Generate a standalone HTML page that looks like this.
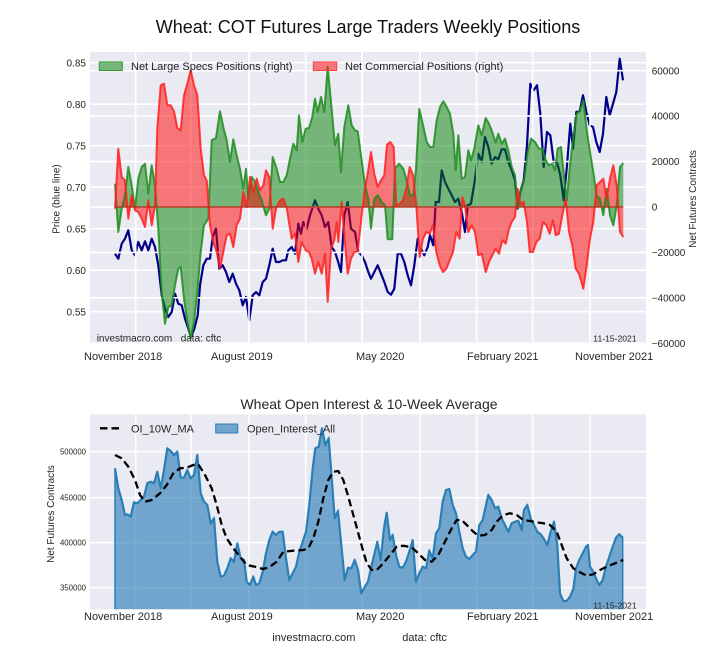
<!DOCTYPE html>
<html><head><meta charset="utf-8"><style>
html,body{margin:0;padding:0;background:#fff;}
svg{display:block;font-family:"Liberation Sans",Arial,sans-serif;}
</style></head><body>
<svg width="720" height="660" viewBox="0 0 720 660" xmlns="http://www.w3.org/2000/svg">
<defs>
<clipPath id="c1"><rect x="90" y="52" width="556" height="292"/></clipPath>
<clipPath id="c2"><rect x="90" y="414.3" width="556" height="195"/></clipPath>
</defs>
<rect width="720" height="660" fill="#fff"/>
<text x="368" y="33" font-size="18" text-anchor="middle" fill="#111">Wheat: COT Futures Large Traders Weekly Positions</text>

<!-- TOP AXES -->
<rect x="90" y="52" width="556" height="292" fill="#EAEAF2"/>
<g stroke="#fff" stroke-width="1.6" fill="none">
<path d="M90 62.7H646M90 104.2H646M90 145.7H646M90 187.2H646M90 228.7H646M90 270.2H646M90 311.7H646"/>
<path d="M135.7 52V344M191 52V344M249 52V344M305.7 52V344M362 52V344M420 52V344M476.7 52V344M532.7 52V344M590 52V344"/>
</g>
<g clip-path="url(#c1)">
<polyline fill="none" stroke="#00008B" stroke-width="2.2" stroke-linejoin="round" points="115,253.7 118.3,258.7 121.7,243.7 125,238.7 128.3,230.3 131.7,250.3 135,255.3 138.3,242 141.7,250.3 145,241.3 148.3,250.3 151.7,238.7 155,247 158.3,265.3 161.7,295.3 165,308.7 168.3,317 171.7,312 175,293.7 178.3,303.7 181.7,305.3 185,318.7 188.3,328.7 191,337 194.3,328.7 197.7,315.3 200,285.3 203.3,265.3 206.7,258.7 210,258.7 212.7,237 216,228.7 219.3,268.7 222.7,265.3 226,272 229.3,282 232.7,273.7 236,283.7 239.3,290.3 242.7,305.3 246,297 249.3,320.3 252.7,295.3 256,292 259.3,295.3 262.7,282 266,278.7 269.3,265.3 272.7,248.7 276,262 279.3,262 282.7,260.3 286,260.3 288.3,250.3 291.7,247 295,253.7 298.3,223.7 301,233.7 303.3,222 306.7,228.7 310,215.3 315,200.3 318.3,208.7 321.7,215.3 325,227 328.3,222 331.7,247 335,252 337.7,260.3 341,272 344.3,215.3 347.7,202 351,228.7 355,232 358.3,252 361.7,255.3 365,262 368.3,272 371,278.7 374.3,272 377.7,265.3 381,273.7 384.3,282 387.7,292 391,294.7 394.3,288.7 397.7,253.7 401,253.7 404.3,262 407.7,275.3 411,285.3 414.3,265.3 417.7,238.7 421,248.7 424.3,255.3 427.7,247 430,235.3 433.3,245.3 435.7,202 439,202 441.7,170.3 445,182 448.3,188.7 451.7,195.3 455,202 458.3,198.7 461.7,212 465,232 467.7,205.3 471,203.7 474.3,183.7 478.3,153.7 481.7,162 485,137 488.3,147 491.7,163.7 495,157 498.3,159.3 501.7,149.3 505,149.3 508.3,162 511.7,170.3 515,180.3 517.7,208.7 520.3,192 523.7,180.3 527,145.3 530.3,83.7 533.7,90.3 537,85.3 540.3,113.7 543.7,167 547,132 550.3,135.3 553.7,162 557,162 560.3,175.3 563.7,200.3 567,165.3 570.3,123.7 573,148.7 576.3,112 579.7,111.3 583,95.3 586.3,112 589.7,125.3 593,127 596.3,142 599.7,152 603,133.7 606.3,97 609.7,115.3 613,103.7 616.3,92 619.7,58.7 623,80.3"/>
</g>
<!-- twin-axis gridlines drawn over the price line -->
<g stroke="#fff" stroke-width="1.6" fill="none">
<path d="M90 70.7H646M90 116.1H646M90 161.6H646M90 207H646M90 252.4H646M90 297.8H646M90 343H646"/>
<path d="M135.7 52V344M191 52V344M249 52V344M305.7 52V344M362 52V344M420 52V344M476.7 52V344M532.7 52V344M590 52V344"/>
</g>
<g clip-path="url(#c1)">
<polygon fill="rgba(0,128,0,0.5)" points="115,183.7 118.3,232 121.7,208.7 125,195 128.3,167 131.7,185 135,208.7 138.3,178.7 141.7,167 145,163.7 148.3,193.7 151.7,165.3 155,185.3 158.3,228.7 161.7,292 165,323.7 168.3,307 171.7,305.3 175,285.3 178.3,268.7 180.7,267 184,298.7 187.3,322 190.7,338.7 194,322 197.3,292 200.7,252 204,225.3 208.3,218.7 211.7,140.3 216,138 220,111.3 223.3,127 226.7,140.3 230,162 233.3,139.3 236.7,155.3 240,168.7 243.3,188.7 246,168.7 248.3,198.7 251.7,177 255,182 258.3,192 261.7,200.3 266,215.3 269.3,208.7 272.7,157 276.7,168.7 280,182 283.3,182 286.7,175.3 290,158.7 293.3,143.7 296.7,150.3 299,115.3 302.3,142 305.7,128.7 309,128 312.3,117 315,98.7 317.7,112 321,97 324.3,112 327.7,67 331,102 335,145.3 338.3,133.7 341,172 344.3,127 348.3,105.3 351.7,125.3 355,130.3 357.7,131.3 361,155.3 365,185.3 368.3,198.7 371,228.7 374.3,198.7 377.7,195.3 381.7,202 385,205.3 387.7,239.3 392.3,239.3 395,168.7 399,163.7 403.3,168.7 406.7,180.3 410,195.3 413.3,195.3 416,168.7 419.3,108.7 422.7,123.7 426.7,142 430,147 433.3,147 436.7,120.3 440,107 443.3,101.3 446.7,107 450,113.7 453.3,133.7 455.7,170.3 458.3,135.3 461.7,178.7 465,177 468.3,150.3 471,160.3 474.3,148.7 478.3,125.3 481.7,135.3 485.7,118 489,123.7 492.3,132 495.7,142.7 498.3,133.7 501.7,143.7 505,138.7 508.3,150.3 511.7,167 515,175.3 517.7,208.7 521,188.7 524.3,178.7 527.7,152 531,138.7 535,142 539,148.7 542.3,148.7 545.7,160.3 549,165.3 552.3,163.7 555,170.3 557.7,148.7 561,147 564.3,178.7 566.7,200.3 570,165.3 573.3,137 576.7,113.7 580,110.3 583.3,100.3 586.7,130.3 590,152 593.3,172 596.7,195.3 600,198.7 603.3,215.3 606.7,188.7 610,215.3 613.3,225.3 616.7,205.3 620,167 623.3,163 623.3,207 115,207"/>
<polygon fill="rgba(255,0,0,0.5)" points="115,208.7 118.3,148.7 121.7,177 125,180.3 128.3,218.7 131.7,195.3 135,210.3 138.3,212 141.7,218.7 145,227 148.3,200.3 151.7,225.3 155,205.3 157.3,128.7 160.7,85.3 164,83.7 167.3,105.3 170.7,105.3 174,111.3 177.3,128 180.7,130.3 184,95.3 187.3,83.7 190.7,70.3 194,85.3 197.3,94.7 200.7,148.7 204,175.3 206.7,180.3 210,225.3 213.3,242 216.7,252 220,268.7 223.3,252 226.7,235.3 230,233.7 233.3,247 236.7,225.3 240,218.7 243.3,192 246.7,207 250,177 253.3,192 256.7,178.7 260,190.3 263.3,185.3 266,170.3 269.3,177 272.7,228.7 276,208.7 280,200.3 283.3,198.7 286.7,208 291.7,238.7 295,233.7 298.3,262 301.7,242 305.7,250.3 309,252 311.7,258.7 315,273.7 318.3,262 321.7,273.7 325,253.7 327.7,302 331,248.7 334.3,240.3 336.7,222 338.3,242 341.7,202 344.3,235.3 347.7,273.7 351,258.7 354.3,252 357.7,251.3 361,222 364.3,192 367.7,173.7 371,152 374.3,173.7 377.7,187 381,180.3 384.3,175.3 387,144.7 390.3,142 393.7,147 396.3,205.3 399.7,203.7 403,200.3 406.3,188.7 409.7,167 413,175.3 416.3,205.3 419.7,257 423,238.7 426.3,232 429.7,233.7 433,225.3 436.3,252 439.7,265.3 443,272 446.3,268.7 449.7,260.3 453,252 456.3,232 459.7,238.7 462.3,197 465,205.3 468.3,232 471.7,225.3 475,232 478.3,255.3 481.7,253.7 485.7,272 489,262 492.3,255.3 495.7,248.7 499,253.7 502.3,240.3 505.7,243.7 509,228.7 511.7,222 515,217 517.7,188.7 520.3,203.7 523.7,202 527,222 529.7,252 533,252 536.3,242 539.7,238.7 543,222 546.3,225.3 549.7,233.7 553,220.3 555.7,235.3 559,233.7 562.3,215.3 565.7,198.7 569,232 572.3,245.3 575.7,268.7 579,273.7 583.3,288.7 586.7,265.3 590,238.7 593.3,222 596.7,185.3 600,182 603.3,178.7 606.7,198.7 610,178.7 613.3,165.3 616.7,185.3 620,232 623.3,237 623.3,207 115,207"/>
<polyline fill="none" stroke="#1f8c1f" stroke-opacity="0.85" stroke-width="2" stroke-linejoin="round" points="115,183.7 118.3,232 121.7,208.7 125,195 128.3,167 131.7,185 135,208.7 138.3,178.7 141.7,167 145,163.7 148.3,193.7 151.7,165.3 155,185.3 158.3,228.7 161.7,292 165,323.7 168.3,307 171.7,305.3 175,285.3 178.3,268.7 180.7,267 184,298.7 187.3,322 190.7,338.7 194,322 197.3,292 200.7,252 204,225.3 208.3,218.7 211.7,140.3 216,138 220,111.3 223.3,127 226.7,140.3 230,162 233.3,139.3 236.7,155.3 240,168.7 243.3,188.7 246,168.7 248.3,198.7 251.7,177 255,182 258.3,192 261.7,200.3 266,215.3 269.3,208.7 272.7,157 276.7,168.7 280,182 283.3,182 286.7,175.3 290,158.7 293.3,143.7 296.7,150.3 299,115.3 302.3,142 305.7,128.7 309,128 312.3,117 315,98.7 317.7,112 321,97 324.3,112 327.7,67 331,102 335,145.3 338.3,133.7 341,172 344.3,127 348.3,105.3 351.7,125.3 355,130.3 357.7,131.3 361,155.3 365,185.3 368.3,198.7 371,228.7 374.3,198.7 377.7,195.3 381.7,202 385,205.3 387.7,239.3 392.3,239.3 395,168.7 399,163.7 403.3,168.7 406.7,180.3 410,195.3 413.3,195.3 416,168.7 419.3,108.7 422.7,123.7 426.7,142 430,147 433.3,147 436.7,120.3 440,107 443.3,101.3 446.7,107 450,113.7 453.3,133.7 455.7,170.3 458.3,135.3 461.7,178.7 465,177 468.3,150.3 471,160.3 474.3,148.7 478.3,125.3 481.7,135.3 485.7,118 489,123.7 492.3,132 495.7,142.7 498.3,133.7 501.7,143.7 505,138.7 508.3,150.3 511.7,167 515,175.3 517.7,208.7 521,188.7 524.3,178.7 527.7,152 531,138.7 535,142 539,148.7 542.3,148.7 545.7,160.3 549,165.3 552.3,163.7 555,170.3 557.7,148.7 561,147 564.3,178.7 566.7,200.3 570,165.3 573.3,137 576.7,113.7 580,110.3 583.3,100.3 586.7,130.3 590,152 593.3,172 596.7,195.3 600,198.7 603.3,215.3 606.7,188.7 610,215.3 613.3,225.3 616.7,205.3 620,167 623.3,163"/>
<polyline fill="none" stroke="#ff2020" stroke-opacity="0.85" stroke-width="2" stroke-linejoin="round" points="115,208.7 118.3,148.7 121.7,177 125,180.3 128.3,218.7 131.7,195.3 135,210.3 138.3,212 141.7,218.7 145,227 148.3,200.3 151.7,225.3 155,205.3 157.3,128.7 160.7,85.3 164,83.7 167.3,105.3 170.7,105.3 174,111.3 177.3,128 180.7,130.3 184,95.3 187.3,83.7 190.7,70.3 194,85.3 197.3,94.7 200.7,148.7 204,175.3 206.7,180.3 210,225.3 213.3,242 216.7,252 220,268.7 223.3,252 226.7,235.3 230,233.7 233.3,247 236.7,225.3 240,218.7 243.3,192 246.7,207 250,177 253.3,192 256.7,178.7 260,190.3 263.3,185.3 266,170.3 269.3,177 272.7,228.7 276,208.7 280,200.3 283.3,198.7 286.7,208 291.7,238.7 295,233.7 298.3,262 301.7,242 305.7,250.3 309,252 311.7,258.7 315,273.7 318.3,262 321.7,273.7 325,253.7 327.7,302 331,248.7 334.3,240.3 336.7,222 338.3,242 341.7,202 344.3,235.3 347.7,273.7 351,258.7 354.3,252 357.7,251.3 361,222 364.3,192 367.7,173.7 371,152 374.3,173.7 377.7,187 381,180.3 384.3,175.3 387,144.7 390.3,142 393.7,147 396.3,205.3 399.7,203.7 403,200.3 406.3,188.7 409.7,167 413,175.3 416.3,205.3 419.7,257 423,238.7 426.3,232 429.7,233.7 433,225.3 436.3,252 439.7,265.3 443,272 446.3,268.7 449.7,260.3 453,252 456.3,232 459.7,238.7 462.3,197 465,205.3 468.3,232 471.7,225.3 475,232 478.3,255.3 481.7,253.7 485.7,272 489,262 492.3,255.3 495.7,248.7 499,253.7 502.3,240.3 505.7,243.7 509,228.7 511.7,222 515,217 517.7,188.7 520.3,203.7 523.7,202 527,222 529.7,252 533,252 536.3,242 539.7,238.7 543,222 546.3,225.3 549.7,233.7 553,220.3 555.7,235.3 559,233.7 562.3,215.3 565.7,198.7 569,232 572.3,245.3 575.7,268.7 579,273.7 583.3,288.7 586.7,265.3 590,238.7 593.3,222 596.7,185.3 600,182 603.3,178.7 606.7,198.7 610,178.7 613.3,165.3 616.7,185.3 620,232 623.3,237"/>
<line x1="115" y1="207" x2="623.3" y2="207" stroke="#b4321e" stroke-width="1.6" stroke-opacity="0.9"/>
</g>
<!-- top legend -->
<rect x="99.3" y="62" width="23" height="8.5" fill="rgba(0,128,0,0.5)" stroke="#2f9a2f" stroke-width="1"/>
<text x="131" y="70" font-size="11" fill="#262626">Net Large Specs Positions (right)</text>
<rect x="313.3" y="62" width="23.4" height="8.5" fill="rgba(255,0,0,0.5)" stroke="#ff4040" stroke-width="1"/>
<text x="345" y="70" font-size="11" fill="#262626">Net Commercial Positions (right)</text>
<!-- top watermark -->
<text x="96.7" y="341.7" font-size="10" fill="#262626">investmacro.com</text>
<text x="180.7" y="341.7" font-size="10" fill="#262626">data: cftc</text>
<text x="593.3" y="341.5" font-size="8.6" fill="#262626">11-15-2021</text>
<!-- top ticks -->
<g font-size="10" fill="#262626" text-anchor="end">
<text x="86" y="66.3">0.85</text><text x="86" y="107.8">0.80</text><text x="86" y="149.3">0.75</text><text x="86" y="190.8">0.70</text><text x="86" y="232.3">0.65</text><text x="86" y="273.8">0.60</text><text x="86" y="315.3">0.55</text>
</g>
<g font-size="10" fill="#262626">
<text x="651.7" y="74.3">60000</text><text x="651.7" y="119.7">40000</text><text x="651.7" y="165.2">20000</text><text x="651.7" y="210.6">0</text><text x="651.7" y="256">−20000</text><text x="651.7" y="301.4">−40000</text><text x="651.7" y="346.8">−60000</text>
</g>
<g font-size="11" fill="#262626">
<text x="84" y="360">November 2018</text><text x="211" y="360">August 2019</text><text x="356" y="360">May 2020</text><text x="467" y="360">February 2021</text><text x="575" y="360">November 2021</text>
</g>
<text transform="translate(59.5,199) rotate(-90)" font-size="10" fill="#262626" text-anchor="middle">Price (blue line)</text>
<text transform="translate(696,199) rotate(-90)" font-size="10" fill="#262626" text-anchor="middle">Net Futures Contracts</text>

<!-- BOTTOM AXES -->
<text x="369" y="409" font-size="14" text-anchor="middle" fill="#262626">Wheat Open Interest &amp; 10-Week Average</text>
<rect x="90" y="414.3" width="556" height="195" fill="#EAEAF2"/>
<g stroke="#fff" stroke-width="1.6" fill="none">
<path d="M90 451.7H646M90 497.7H646M90 542.7H646M90 587.7H646"/>
<path d="M135.7 414.3V609.3M191 414.3V609.3M249 414.3V609.3M305.7 414.3V609.3M362 414.3V609.3M420 414.3V609.3M476.7 414.3V609.3M532.7 414.3V609.3M590 414.3V609.3"/>
</g>
<g clip-path="url(#c2)">
<polygon fill="rgba(31,119,180,0.6)" stroke="#2a7fb5" stroke-width="1.5" points="115,620 115,468.3 118.3,488.3 121.7,500 125,515 127.3,514.3 130.7,516.7 134,502.3 137.3,503.3 140.7,500 144,496.7 147.3,483.3 150.7,481.7 154,483.3 157.3,471.7 160.7,488.3 164,470 167.3,448.3 170.7,451 174,455 177.3,451.7 180.7,477.7 184,477.7 187.3,470 190.7,478.3 194,475 197.3,455 200.7,493.3 204,501.7 207.3,505 210.7,523.3 214,518.3 217.3,561.7 220.7,576.7 224,575.7 227.3,568.3 230.7,558.3 234,561.7 237.3,543.3 240.7,558.3 244,560 246.7,581.7 250,585 253.3,576.7 256,585 259.3,583.3 262.7,571.7 266,553.3 269.3,540 272.7,531.7 276,535 279.3,531.7 282.7,531.7 286,558.3 289.3,580 292.7,573.3 296,566.7 299.3,551.7 302.7,541.7 306,531.7 309.3,505 312.7,468.3 315.3,448.3 318.7,446.7 322,428.3 325.3,445 328.7,438.3 332,481.7 334.7,518.3 338,511 341.3,545 344.7,580 348,567.7 351.3,568.3 354.7,560 358,570 361.3,593.3 364.7,587 368,581.7 371.7,565 375,551.7 377.3,541.7 380.7,560 384,528.3 386.7,512.7 390,540 392.7,535 396,555 399.3,566.7 402.7,567.7 406,561.7 409.3,551.7 412.7,540 416,581.7 419.3,573.3 422.7,566.7 426,568.3 429.3,550.7 432.7,558.3 436,533.3 439.3,528.3 442.7,501.7 446,490 449.3,489 452.7,505 456,513.3 459.3,531.7 462.7,548.3 466,556.7 469.3,559 472.7,555 476,551.7 479.3,525 482.7,520 486,505 488.3,495 491.7,500 495,508.3 498.3,506.7 501.7,518.3 505,525 508.3,531.7 511.7,523.3 515,521.7 518.3,520.7 521.7,530 524,510 527.3,505 530.7,518.3 534,525 537.3,531.7 540.7,534.3 544,539 547.3,545 550.7,531.7 554,521.7 557.3,545 560,593.3 563.3,601 566.7,601 570,596.7 573.3,589 576,568.3 579.3,560 582.7,553.3 586,546.7 588,545 590,566.7 593.3,571.7 596.7,580 599.3,585 602.7,580 606,566.7 609.3,556.7 612.7,546.7 616,537.7 619.3,534.3 622.7,537.7 622.7,620"/>
<polyline fill="none" stroke="#2a7fb5" stroke-width="2.2" stroke-linejoin="round" points="115,468.3 118.3,488.3 121.7,500 125,515 127.3,514.3 130.7,516.7 134,502.3 137.3,503.3 140.7,500 144,496.7 147.3,483.3 150.7,481.7 154,483.3 157.3,471.7 160.7,488.3 164,470 167.3,448.3 170.7,451 174,455 177.3,451.7 180.7,477.7 184,477.7 187.3,470 190.7,478.3 194,475 197.3,455 200.7,493.3 204,501.7 207.3,505 210.7,523.3 214,518.3 217.3,561.7 220.7,576.7 224,575.7 227.3,568.3 230.7,558.3 234,561.7 237.3,543.3 240.7,558.3 244,560 246.7,581.7 250,585 253.3,576.7 256,585 259.3,583.3 262.7,571.7 266,553.3 269.3,540 272.7,531.7 276,535 279.3,531.7 282.7,531.7 286,558.3 289.3,580 292.7,573.3 296,566.7 299.3,551.7 302.7,541.7 306,531.7 309.3,505 312.7,468.3 315.3,448.3 318.7,446.7 322,428.3 325.3,445 328.7,438.3 332,481.7 334.7,518.3 338,511 341.3,545 344.7,580 348,567.7 351.3,568.3 354.7,560 358,570 361.3,593.3 364.7,587 368,581.7 371.7,565 375,551.7 377.3,541.7 380.7,560 384,528.3 386.7,512.7 390,540 392.7,535 396,555 399.3,566.7 402.7,567.7 406,561.7 409.3,551.7 412.7,540 416,581.7 419.3,573.3 422.7,566.7 426,568.3 429.3,550.7 432.7,558.3 436,533.3 439.3,528.3 442.7,501.7 446,490 449.3,489 452.7,505 456,513.3 459.3,531.7 462.7,548.3 466,556.7 469.3,559 472.7,555 476,551.7 479.3,525 482.7,520 486,505 488.3,495 491.7,500 495,508.3 498.3,506.7 501.7,518.3 505,525 508.3,531.7 511.7,523.3 515,521.7 518.3,520.7 521.7,530 524,510 527.3,505 530.7,518.3 534,525 537.3,531.7 540.7,534.3 544,539 547.3,545 550.7,531.7 554,521.7 557.3,545 560,593.3 563.3,601 566.7,601 570,596.7 573.3,589 576,568.3 579.3,560 582.7,553.3 586,546.7 588,545 590,566.7 593.3,571.7 596.7,580 599.3,585 602.7,580 606,566.7 609.3,556.7 612.7,546.7 616,537.7 619.3,534.3 622.7,537.7"/>
<polyline fill="none" stroke="#000" stroke-width="2.3" stroke-dasharray="7.5,4" stroke-linejoin="round" points="115,455 121.7,458.3 128.3,466.7 135,480 140,495 145,501.7 151.7,500 160,493.3 166.7,485 173.3,473.3 180,468.3 186.7,467.7 193.3,465 198.3,464.3 205,475 211.7,488.3 216.7,505 221.7,525 226.7,538.3 233.3,548.3 240,556.7 246.7,565 255,566.7 263.3,569 270,566.7 276.7,561.7 283.3,551.7 293.3,550.7 303.3,550 308.3,548.3 313.3,538.3 318.3,521.7 323.3,498.3 328.3,480 333.3,471.7 338.3,471 343.3,480 348.3,496.7 353.3,515 358.3,533.3 363.3,551.7 366.7,563 371.7,570 376.7,570 383.3,563.3 390,555 396.7,546.7 403.3,545.7 411.7,547.3 418.3,553.3 425,560 431.7,561.7 438.3,555 445,541.7 451.7,528.3 456.7,520 461.7,520 466.7,525 473.3,531.7 478.3,535.7 485,535 491.7,530 496.7,521.7 503.3,515 510,513.3 516.7,515 523.3,520 530,521 536.7,522.3 543.3,523.3 550,525 556.7,531.7 561.7,545 566.7,558.3 573.3,568.3 580,572.3 586.7,575.7 593.3,574.3 600,570 606.7,566.7 613.3,564 623.3,560"/>
</g>
<!-- bottom legend -->
<line x1="100" y1="428.3" x2="121" y2="428.3" stroke="#000" stroke-width="2.3" stroke-dasharray="7.5,4"/>
<text x="131" y="432.3" font-size="11" fill="#262626">OI_10W_MA</text>
<rect x="215.7" y="424" width="22" height="9" fill="rgba(31,119,180,0.6)" stroke="#2a7fb5" stroke-width="1"/>
<text x="247" y="432.3" font-size="11" fill="#262626">Open_Interest_All</text>
<text x="593.3" y="608.3" font-size="8.6" fill="#262626">11-15-2021</text>
<g font-size="7.8" fill="#262626" text-anchor="end">
<text x="86" y="454.5">500000</text><text x="86" y="500.5">450000</text><text x="86" y="545.5">400000</text><text x="86" y="590.5">350000</text>
</g>
<g font-size="11" fill="#262626">
<text x="84" y="620">November 2018</text><text x="211" y="620">August 2019</text><text x="356" y="620">May 2020</text><text x="467" y="620">February 2021</text><text x="575" y="620">November 2021</text>
</g>
<text transform="translate(54,514) rotate(-90)" font-size="10" fill="#262626" text-anchor="middle">Net Futures Contracts</text>
<text x="272.3" y="641" font-size="11" fill="#262626">investmacro.com</text>
<text x="402.3" y="641" font-size="11" fill="#262626">data: cftc</text>
</svg>
</body></html>
